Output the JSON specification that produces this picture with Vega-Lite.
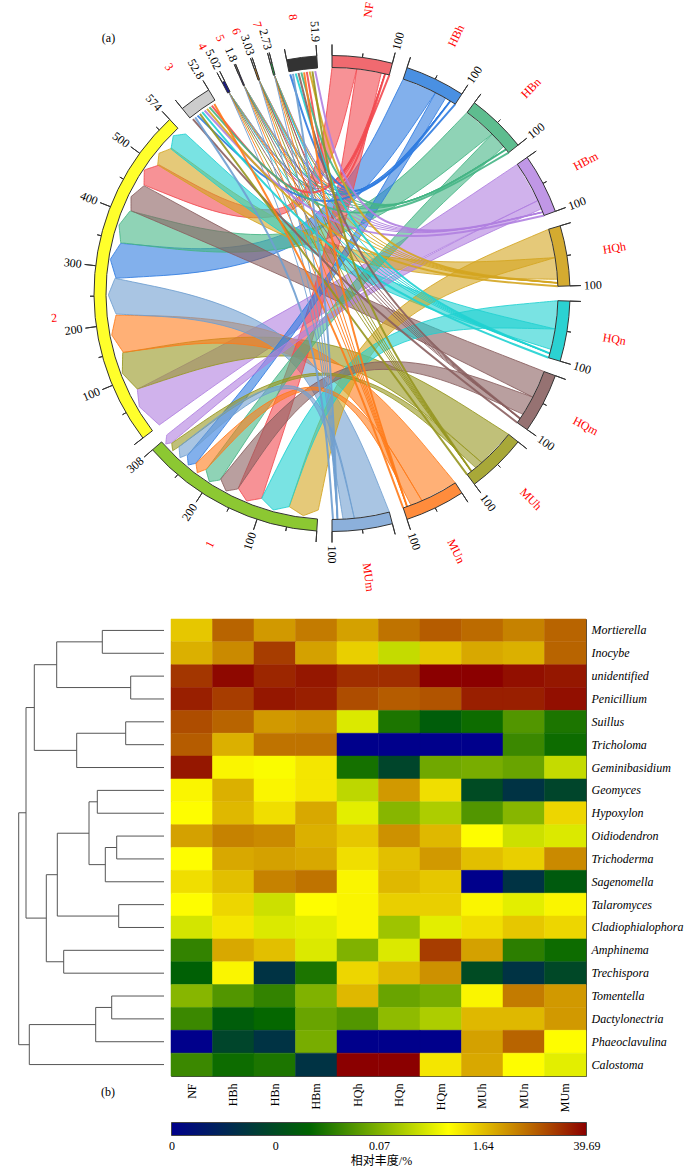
{"$schema":"https://vega.github.io/schema/vega-lite/v6.json","padding":0,"background":"white","bounds":"flush","spacing":32,"config":{"view":{"stroke":null},"text":{"font":"Liberation Serif"},"axis":{"labelFont":"Liberation Serif","titleFont":"Liberation Serif"}},
"datasets":{
"ribbons":[
{"i":"a2","x":332,"y":67.5},{"i":"a2","x":332,"y":67.5},{"i":"a2","x":332,"y":67.5},{"i":"a2","x":310.4,"y":249.2},{"i":"a2","x":159.3,"y":165},{"i":"a2","x":159.3,"y":165},{"i":"a2","x":159.3,"y":165},{"i":"a2","x":144.3,"y":170},{"i":"a2","x":144.3,"y":170},{"i":"a2","x":144.3,"y":170},{"i":"a2","x":144,"y":185},{"i":"a2","x":144,"y":185},{"i":"a2","x":144,"y":185},{"i":"a2","x":311.6,"y":251.8},{"i":"a2","x":356.8,"y":68.9},{"i":"a2","x":356.8,"y":68.9},{"i":"a2","x":356.8,"y":68.9},
{"i":"b2","x":403.2,"y":79},{"i":"b2","x":403.2,"y":79},{"i":"b2","x":403.2,"y":79},{"i":"b2","x":314.5,"y":260.5},{"i":"b2","x":120.7,"y":243.3},{"i":"b2","x":120.7,"y":243.3},{"i":"b2","x":120.7,"y":243.3},{"i":"b2","x":110.3,"y":259.3},{"i":"b2","x":110.3,"y":259.3},{"i":"b2","x":110.3,"y":259.3},{"i":"b2","x":116,"y":278.3},{"i":"b2","x":116,"y":278.3},{"i":"b2","x":116,"y":278.3},{"i":"b2","x":317.9,"y":266.5},{"i":"b2","x":435.6,"y":92.6},{"i":"b2","x":435.6,"y":92.6},{"i":"b2","x":435.6,"y":92.6},
{"i":"c2","x":467.1,"y":112.4},{"i":"c2","x":467.1,"y":112.4},{"i":"c2","x":467.1,"y":112.4},{"i":"c2","x":323.6,"y":260.6},{"i":"c2","x":130,"y":211},{"i":"c2","x":130,"y":211},{"i":"c2","x":130,"y":211},{"i":"c2","x":119,"y":225},{"i":"c2","x":119,"y":225},{"i":"c2","x":119,"y":225},{"i":"c2","x":120.7,"y":242.7},{"i":"c2","x":120.7,"y":242.7},{"i":"c2","x":120.7,"y":242.7},{"i":"c2","x":325.6,"y":267.2},{"i":"c2","x":492.2,"y":134},{"i":"c2","x":492.2,"y":134},{"i":"c2","x":492.2,"y":134},
{"i":"d2","x":517.4,"y":164.2},{"i":"d2","x":517.4,"y":164.2},{"i":"d2","x":517.4,"y":164.2},{"i":"d2","x":330.8,"y":289.3},{"i":"d2","x":137.3,"y":389.3},{"i":"d2","x":137.3,"y":389.3},{"i":"d2","x":137.3,"y":389.3},{"i":"d2","x":139.3,"y":406.7},{"i":"d2","x":139.3,"y":406.7},{"i":"d2","x":139.3,"y":406.7},{"i":"d2","x":159.3,"y":425},{"i":"d2","x":159.3,"y":425},{"i":"d2","x":159.3,"y":425},{"i":"d2","x":336.2,"y":298.3},{"i":"d2","x":538,"y":200.5},{"i":"d2","x":538,"y":200.5},{"i":"d2","x":538,"y":200.5},
{"i":"e2","x":555.1,"y":257.6},{"i":"e2","x":555.1,"y":257.6},{"i":"e2","x":555.1,"y":257.6},{"i":"e2","x":339.8,"y":270.9},{"i":"e2","x":171.7,"y":148.3},{"i":"e2","x":171.7,"y":148.3},{"i":"e2","x":171.7,"y":148.3},{"i":"e2","x":159,"y":153.3},{"i":"e2","x":159,"y":153.3},{"i":"e2","x":159,"y":153.3},{"i":"e2","x":157.7,"y":165},{"i":"e2","x":157.7,"y":165},{"i":"e2","x":157.7,"y":165},{"i":"e2","x":338.4,"y":275.7},{"i":"e2","x":557.5,"y":279.3},{"i":"e2","x":557.5,"y":279.3},{"i":"e2","x":557.5,"y":279.3},
{"i":"f2","x":555.2,"y":329},{"i":"f2","x":555.2,"y":329},{"i":"f2","x":555.2,"y":329},{"i":"f2","x":341.6,"y":278},{"i":"f2","x":185.7,"y":134},{"i":"f2","x":185.7,"y":134},{"i":"f2","x":185.7,"y":134},{"i":"f2","x":173.3,"y":135.7},{"i":"f2","x":173.3,"y":135.7},{"i":"f2","x":173.3,"y":135.7},{"i":"f2","x":171,"y":149},{"i":"f2","x":171,"y":149},{"i":"f2","x":171,"y":149},{"i":"f2","x":339.2,"y":282.4},{"i":"f2","x":551,"y":349.4},{"i":"f2","x":551,"y":349.4},{"i":"f2","x":551,"y":349.4},
{"i":"g2","x":544.1,"y":371.5},{"i":"g2","x":544.1,"y":371.5},{"i":"g2","x":544.1,"y":371.5},{"i":"g2","x":335,"y":289.7},{"i":"g2","x":144,"y":185.7},{"i":"g2","x":144,"y":185.7},{"i":"g2","x":144,"y":185.7},{"i":"g2","x":131,"y":196.7},{"i":"g2","x":131,"y":196.7},{"i":"g2","x":131,"y":196.7},{"i":"g2","x":131,"y":210.7},{"i":"g2","x":131,"y":210.7},{"i":"g2","x":131,"y":210.7},{"i":"g2","x":332,"y":296.1},{"i":"g2","x":532.8,"y":397.1},{"i":"g2","x":532.8,"y":397.1},{"i":"g2","x":532.8,"y":397.1},
{"i":"h2","x":508.7,"y":434.4},{"i":"h2","x":508.7,"y":434.4},{"i":"h2","x":508.7,"y":434.4},{"i":"h2","x":328,"y":318.6},{"i":"h2","x":122.7,"y":352.7},{"i":"h2","x":122.7,"y":352.7},{"i":"h2","x":122.7,"y":352.7},{"i":"h2","x":122.3,"y":373.3},{"i":"h2","x":122.3,"y":373.3},{"i":"h2","x":122.3,"y":373.3},{"i":"h2","x":137.3,"y":389},{"i":"h2","x":137.3,"y":389},{"i":"h2","x":137.3,"y":389},{"i":"h2","x":326.4,"y":326.6},{"i":"h2","x":481.9,"y":462.7},{"i":"h2","x":481.9,"y":462.7},{"i":"h2","x":481.9,"y":462.7},
{"i":"i2","x":455.3,"y":482.9},{"i":"i2","x":455.3,"y":482.9},{"i":"i2","x":455.3,"y":482.9},{"i":"i2","x":320.4,"y":319.8},{"i":"i2","x":116,"y":315},{"i":"i2","x":116,"y":315},{"i":"i2","x":116,"y":315},{"i":"i2","x":111.7,"y":335},{"i":"i2","x":111.7,"y":335},{"i":"i2","x":111.7,"y":335},{"i":"i2","x":123.3,"y":352.3},{"i":"i2","x":123.3,"y":352.3},{"i":"i2","x":123.3,"y":352.3},{"i":"i2","x":317.2,"y":326.8},{"i":"i2","x":422,"y":500.8},{"i":"i2","x":422,"y":500.8},{"i":"i2","x":422,"y":500.8},
{"i":"j2","x":389.4,"y":512.1},{"i":"j2","x":389.4,"y":512.1},{"i":"j2","x":389.4,"y":512.1},{"i":"j2","x":312.1,"y":318.9},{"i":"j2","x":115,"y":278.3},{"i":"j2","x":115,"y":278.3},{"i":"j2","x":115,"y":278.3},{"i":"j2","x":108.3,"y":295},{"i":"j2","x":108.3,"y":295},{"i":"j2","x":108.3,"y":295},{"i":"j2","x":116,"y":314},{"i":"j2","x":116,"y":314},{"i":"j2","x":116,"y":314},{"i":"j2","x":307.9,"y":324.1},{"i":"j2","x":354.4,"y":518.4},{"i":"j2","x":354.4,"y":518.4},{"i":"j2","x":354.4,"y":518.4},
{"i":"a1","x":356.8,"y":68.9},{"i":"a1","x":356.8,"y":68.9},{"i":"a1","x":356.8,"y":68.9},{"i":"a1","x":323.4,"y":289.7},{"i":"a1","x":238.3,"y":488.3},{"i":"a1","x":238.3,"y":488.3},{"i":"a1","x":238.3,"y":488.3},{"i":"a1","x":246.7,"y":501},{"i":"a1","x":246.7,"y":501},{"i":"a1","x":246.7,"y":501},{"i":"a1","x":261.7,"y":498.3},{"i":"a1","x":261.7,"y":498.3},{"i":"a1","x":261.7,"y":498.3},{"i":"a1","x":329.4,"y":291.5},{"i":"a1","x":381.3,"y":72.9},{"i":"a1","x":381.3,"y":72.9},{"i":"a1","x":381.3,"y":72.9},
{"i":"b1","x":435.6,"y":92.6},{"i":"b1","x":435.6,"y":92.6},{"i":"b1","x":435.6,"y":92.6},{"i":"b1","x":326.8,"y":288.7},{"i":"b1","x":187.3,"y":455.7},{"i":"b1","x":187.3,"y":455.7},{"i":"b1","x":187.3,"y":455.7},{"i":"b1","x":188.3,"y":465},{"i":"b1","x":188.3,"y":465},{"i":"b1","x":188.3,"y":465},{"i":"b1","x":196,"y":463.3},{"i":"b1","x":196,"y":463.3},{"i":"b1","x":196,"y":463.3},{"i":"b1","x":329.2,"y":290.3},{"i":"b1","x":445.6,"y":98.1},{"i":"b1","x":445.6,"y":98.1},{"i":"b1","x":445.6,"y":98.1},
{"i":"c1","x":492.2,"y":134},{"i":"c1","x":492.2,"y":134},{"i":"c1","x":492.2,"y":134},{"i":"c1","x":336.3,"y":295.6},{"i":"c1","x":206,"y":470},{"i":"c1","x":206,"y":470},{"i":"c1","x":206,"y":470},{"i":"c1","x":209.3,"y":481.7},{"i":"c1","x":209.3,"y":481.7},{"i":"c1","x":209.3,"y":481.7},{"i":"c1","x":220,"y":480},{"i":"c1","x":220,"y":480},{"i":"c1","x":220,"y":480},{"i":"c1","x":339.5,"y":298.4},{"i":"c1","x":503.7,"y":146.5},{"i":"c1","x":503.7,"y":146.5},{"i":"c1","x":503.7,"y":146.5},
{"i":"d1","x":538,"y":200.5},{"i":"d1","x":538,"y":200.5},{"i":"d1","x":538,"y":200.5},{"i":"d1","x":337.1,"y":299.6},{"i":"d1","x":166.7,"y":435},{"i":"d1","x":166.7,"y":435},{"i":"d1","x":166.7,"y":435},{"i":"d1","x":165.7,"y":444},{"i":"d1","x":165.7,"y":444},{"i":"d1","x":165.7,"y":444},{"i":"d1","x":171.7,"y":442.7},{"i":"d1","x":171.7,"y":442.7},{"i":"d1","x":171.7,"y":442.7},{"i":"d1","x":338.1,"y":301.6},{"i":"d1","x":541.5,"y":208.8},{"i":"d1","x":541.5,"y":208.8},{"i":"d1","x":541.5,"y":208.8},
{"i":"e1","x":548.7,"y":229.2},{"i":"e1","x":548.7,"y":229.2},{"i":"e1","x":548.7,"y":229.2},{"i":"e1","x":353.8,"y":312.1},{"i":"e1","x":289.3,"y":506.7},{"i":"e1","x":289.3,"y":506.7},{"i":"e1","x":289.3,"y":506.7},{"i":"e1","x":303.3,"y":515.7},{"i":"e1","x":303.3,"y":515.7},{"i":"e1","x":303.3,"y":515.7},{"i":"e1","x":318.3,"y":510},{"i":"e1","x":318.3,"y":510},{"i":"e1","x":318.3,"y":510},{"i":"e1","x":358.2,"y":316.1},{"i":"e1","x":555.1,"y":257.6},{"i":"e1","x":555.1,"y":257.6},{"i":"e1","x":555.1,"y":257.6},
{"i":"f1","x":557.9,"y":300.7},{"i":"f1","x":557.9,"y":300.7},{"i":"f1","x":557.9,"y":300.7},{"i":"f1","x":351.5,"y":320},{"i":"f1","x":261.7,"y":498.3},{"i":"f1","x":261.7,"y":498.3},{"i":"f1","x":261.7,"y":498.3},{"i":"f1","x":273.3,"y":510},{"i":"f1","x":273.3,"y":510},{"i":"f1","x":273.3,"y":510},{"i":"f1","x":289,"y":506.7},{"i":"f1","x":289,"y":506.7},{"i":"f1","x":289,"y":506.7},{"i":"f1","x":354.5,"y":324.6},{"i":"f1","x":555.2,"y":329},{"i":"f1","x":555.2,"y":329},{"i":"f1","x":555.2,"y":329},
{"i":"g1","x":532.8,"y":397.1},{"i":"g1","x":532.8,"y":397.1},{"i":"g1","x":532.8,"y":397.1},{"i":"g1","x":343.1,"y":329.6},{"i":"g1","x":220.7,"y":479},{"i":"g1","x":220.7,"y":479},{"i":"g1","x":220.7,"y":479},{"i":"g1","x":226,"y":491},{"i":"g1","x":226,"y":491},{"i":"g1","x":226,"y":491},{"i":"g1","x":237.7,"y":489},{"i":"g1","x":237.7,"y":489},{"i":"g1","x":237.7,"y":489},{"i":"g1","x":344.1,"y":333},{"i":"g1","x":523,"y":414.3},{"i":"g1","x":523,"y":414.3},{"i":"g1","x":523,"y":414.3},
{"i":"h1","x":481.9,"y":462.7},{"i":"h1","x":481.9,"y":462.7},{"i":"h1","x":481.9,"y":462.7},{"i":"h1","x":330.7,"y":333.4},{"i":"h1","x":171.7,"y":443.3},{"i":"h1","x":171.7,"y":443.3},{"i":"h1","x":171.7,"y":443.3},{"i":"h1","x":172.7,"y":450.7},{"i":"h1","x":172.7,"y":450.7},{"i":"h1","x":172.7,"y":450.7},{"i":"h1","x":179,"y":446.7},{"i":"h1","x":179,"y":446.7},{"i":"h1","x":179,"y":446.7},{"i":"h1","x":330.9,"y":334.4},{"i":"h1","x":475.8,"y":467.8},{"i":"h1","x":475.8,"y":467.8},{"i":"h1","x":475.8,"y":467.8},
{"i":"i1","x":422,"y":500.8},{"i":"i1","x":422,"y":500.8},{"i":"i1","x":422,"y":500.8},{"i":"i1","x":326.3,"y":340.6},{"i":"i1","x":196,"y":463.3},{"i":"i1","x":196,"y":463.3},{"i":"i1","x":196,"y":463.3},{"i":"i1","x":197.3,"y":472.7},{"i":"i1","x":197.3,"y":472.7},{"i":"i1","x":197.3,"y":472.7},{"i":"i1","x":206,"y":469.3},{"i":"i1","x":206,"y":469.3},{"i":"i1","x":206,"y":469.3},{"i":"i1","x":326.1,"y":342},{"i":"i1","x":411,"y":505.2},{"i":"i1","x":411,"y":505.2},{"i":"i1","x":411,"y":505.2},
{"i":"j1","x":354.4,"y":518.4},{"i":"j1","x":354.4,"y":518.4},{"i":"j1","x":354.4,"y":518.4},{"i":"j1","x":315.6,"y":340.8},{"i":"j1","x":179,"y":446.7},{"i":"j1","x":179,"y":446.7},{"i":"j1","x":179,"y":446.7},{"i":"j1","x":180,"y":457.7},{"i":"j1","x":180,"y":457.7},{"i":"j1","x":180,"y":457.7},{"i":"j1","x":186.7,"y":455},{"i":"j1","x":186.7,"y":455},{"i":"j1","x":186.7,"y":455},{"i":"j1","x":315.2,"y":342},{"i":"j1","x":343,"y":519.2},{"i":"j1","x":343,"y":519.2},{"i":"j1","x":343,"y":519.2}
],
"links":[
{"i":"a3","x":389.4,"y":74.9},{"i":"a3","x":322.6,"y":243.1},{"i":"a3","x":211.8,"y":105.6},
{"i":"b3","x":455.3,"y":104.1},{"i":"b3","x":330.8,"y":246.4},{"i":"b3","x":197.5,"y":115.6},
{"i":"c3","x":508.7,"y":152.6},{"i":"c3","x":337.8,"y":252.5},{"i":"c3","x":209.4,"y":107.2},
{"i":"d3","x":544.1,"y":215.5},{"i":"d3","x":342.4,"y":260.3},{"i":"d3","x":204.6,"y":110.5},
{"i":"e3","x":557.9,"y":286.3},{"i":"e3","x":344.2,"y":269.2},{"i":"e3","x":207,"y":108.8},
{"i":"f3","x":548.7,"y":357.8},{"i":"f3","x":343.2,"y":278},{"i":"f3","x":202.2,"y":112.2},
{"i":"g3","x":517.4,"y":422.8},{"i":"g3","x":339.5,"y":286.1},{"i":"g3","x":192.9,"y":119.2},
{"i":"h3","x":467.1,"y":474.6},{"i":"h3","x":333.4,"y":292.7},{"i":"h3","x":199.9,"y":113.9},
{"i":"i3","x":403.2,"y":508},{"i":"i3","x":325.4,"y":297.2},{"i":"i3","x":214.3,"y":104.1},
{"i":"j3","x":333,"y":519.5},{"i":"j3","x":316.7,"y":298.7},{"i":"j3","x":195.2,"y":117.4},
{"i":"a8","x":385.1,"y":73.8},{"i":"a8","x":334.6,"y":238.4},{"i":"a8","x":306.8,"y":71.9},
{"i":"b8","x":450.4,"y":101},{"i":"b8","x":342.8,"y":241.7},{"i":"b8","x":290.2,"y":74.4},
{"i":"c8","x":506.1,"y":149.4},{"i":"c8","x":349.8,"y":247.8},{"i":"c8","x":301.3,"y":72.6},
{"i":"d8","x":542.9,"y":212.1},{"i":"d8","x":354.4,"y":255.6},{"i":"d8","x":315.2,"y":71.1},
{"i":"e8","x":557.8,"y":282.9},{"i":"e8","x":356.2,"y":264.5},{"i":"e8","x":309.6,"y":71.6},
{"i":"f8","x":549.9,"y":353.5},{"i":"f8","x":355.2,"y":273.3},{"i":"f8","x":295.7,"y":73.5},
{"i":"g8","x":520.2,"y":418.6},{"i":"g8","x":351.5,"y":281.4},{"i":"g8","x":298.5,"y":73},
{"i":"h8","x":471.4,"y":471.3},{"i":"h8","x":345.4,"y":288},{"i":"h8","x":312.4,"y":71.4},
{"i":"i8","x":407.1,"y":506.7},{"i":"i8","x":337.4,"y":292.5},{"i":"i8","x":304.1,"y":72.3},
{"i":"j8","x":337.5,"y":519.4},{"i":"j8","x":328.7,"y":294},{"i":"j8","x":293,"y":73.9}
],
"fine":[
{"i":"a4","x":385.1,"y":73.8},{"i":"a4","x":325.7,"y":241},{"i":"a4","x":228.9,"y":92.4},
{"i":"b4","x":450.4,"y":101},{"i":"b4","x":333.9,"y":244.3},{"i":"b4","x":228.9,"y":92.4},
{"i":"c4","x":506.1,"y":149.4},{"i":"c4","x":340.9,"y":250.4},{"i":"c4","x":228.9,"y":92.4},
{"i":"d4","x":542.9,"y":212.1},{"i":"d4","x":345.5,"y":258.2},{"i":"d4","x":228.9,"y":92.4},
{"i":"e4","x":557.8,"y":282.9},{"i":"e4","x":347.3,"y":267.1},{"i":"e4","x":228.9,"y":92.4},
{"i":"f4","x":549.9,"y":353.5},{"i":"f4","x":346.3,"y":275.9},{"i":"f4","x":228.9,"y":92.4},
{"i":"g4","x":520.2,"y":418.6},{"i":"g4","x":342.6,"y":284},{"i":"g4","x":228.9,"y":92.4},
{"i":"h4","x":471.4,"y":471.3},{"i":"h4","x":336.5,"y":290.6},{"i":"h4","x":228.9,"y":92.4},
{"i":"i4","x":407.1,"y":506.7},{"i":"i4","x":328.5,"y":295.1},{"i":"i4","x":228.9,"y":92.4},
{"i":"j4","x":337.5,"y":519.4},{"i":"j4","x":319.8,"y":296.6},{"i":"j4","x":228.9,"y":92.4},
{"i":"a5","x":385.1,"y":73.8},{"i":"a5","x":327.6,"y":240.1},{"i":"a5","x":243.9,"y":85.4},
{"i":"b5","x":450.4,"y":101},{"i":"b5","x":335.8,"y":243.4},{"i":"b5","x":243.9,"y":85.4},
{"i":"c5","x":506.1,"y":149.4},{"i":"c5","x":342.8,"y":249.5},{"i":"c5","x":243.9,"y":85.4},
{"i":"d5","x":542.9,"y":212.1},{"i":"d5","x":347.4,"y":257.3},{"i":"d5","x":243.9,"y":85.4},
{"i":"e5","x":557.8,"y":282.9},{"i":"e5","x":349.2,"y":266.2},{"i":"e5","x":243.9,"y":85.4},
{"i":"f5","x":549.9,"y":353.5},{"i":"f5","x":348.2,"y":275},{"i":"f5","x":243.9,"y":85.4},
{"i":"g5","x":520.2,"y":418.6},{"i":"g5","x":344.5,"y":283.1},{"i":"g5","x":243.9,"y":85.4},
{"i":"h5","x":471.4,"y":471.3},{"i":"h5","x":338.4,"y":289.7},{"i":"h5","x":243.9,"y":85.4},
{"i":"i5","x":407.1,"y":506.7},{"i":"i5","x":330.4,"y":294.2},{"i":"i5","x":243.9,"y":85.4},
{"i":"j5","x":337.5,"y":519.4},{"i":"j5","x":321.7,"y":295.7},{"i":"j5","x":243.9,"y":85.4},
{"i":"a6","x":385.1,"y":73.8},{"i":"a6","x":329.5,"y":239.4},{"i":"a6","x":258.8,"y":79.7},
{"i":"b6","x":450.4,"y":101},{"i":"b6","x":337.7,"y":242.7},{"i":"b6","x":258.8,"y":79.7},
{"i":"c6","x":506.1,"y":149.4},{"i":"c6","x":344.7,"y":248.8},{"i":"c6","x":258.8,"y":79.7},
{"i":"d6","x":542.9,"y":212.1},{"i":"d6","x":349.3,"y":256.6},{"i":"d6","x":258.8,"y":79.7},
{"i":"e6","x":557.8,"y":282.9},{"i":"e6","x":351.1,"y":265.5},{"i":"e6","x":258.8,"y":79.7},
{"i":"f6","x":549.9,"y":353.5},{"i":"f6","x":350.1,"y":274.3},{"i":"f6","x":258.8,"y":79.7},
{"i":"g6","x":520.2,"y":418.6},{"i":"g6","x":346.4,"y":282.4},{"i":"g6","x":258.8,"y":79.7},
{"i":"h6","x":471.4,"y":471.3},{"i":"h6","x":340.3,"y":289},{"i":"h6","x":258.8,"y":79.7},
{"i":"i6","x":407.1,"y":506.7},{"i":"i6","x":332.3,"y":293.5},{"i":"i6","x":258.8,"y":79.7},
{"i":"j6","x":337.5,"y":519.4},{"i":"j6","x":323.6,"y":295},{"i":"j6","x":258.8,"y":79.7},
{"i":"a7","x":385.1,"y":73.8},{"i":"a7","x":331.4,"y":238.8},{"i":"a7","x":274.3,"y":75},
{"i":"b7","x":450.4,"y":101},{"i":"b7","x":339.6,"y":242.1},{"i":"b7","x":274.3,"y":75},
{"i":"c7","x":506.1,"y":149.4},{"i":"c7","x":346.6,"y":248.2},{"i":"c7","x":274.3,"y":75},
{"i":"d7","x":542.9,"y":212.1},{"i":"d7","x":351.2,"y":256},{"i":"d7","x":274.3,"y":75},
{"i":"e7","x":557.8,"y":282.9},{"i":"e7","x":353,"y":264.9},{"i":"e7","x":274.3,"y":75},
{"i":"f7","x":549.9,"y":353.5},{"i":"f7","x":352,"y":273.7},{"i":"f7","x":274.3,"y":75},
{"i":"g7","x":520.2,"y":418.6},{"i":"g7","x":348.3,"y":281.8},{"i":"g7","x":274.3,"y":75},
{"i":"h7","x":471.4,"y":471.3},{"i":"h7","x":342.2,"y":288.4},{"i":"h7","x":274.3,"y":75},
{"i":"i7","x":407.1,"y":506.7},{"i":"i7","x":334.2,"y":292.9},{"i":"i7","x":274.3,"y":75},
{"i":"j7","x":337.5,"y":519.4},{"i":"j7","x":325.5,"y":294.4},{"i":"j7","x":274.3,"y":75}
],
"sectors":[{"n":"NF","a0":0,"a1":14.7},{"n":"HBh","a0":18.37,"a1":33.07},{"n":"HBn","a0":36.73,"a1":51.43},{"n":"HBm","a0":55.1,"a1":69.8},{"n":"HQh","a0":73.47,"a1":88.17},{"n":"HQn","a0":91.83,"a1":106.53},{"n":"HQm","a0":110.2,"a1":124.9},{"n":"MUh","a0":128.57,"a1":143.27},{"n":"MUn","a0":146.93,"a1":161.63},{"n":"MUm","a0":165.3,"a1":180},{"n":"1","a0":183.67,"a1":228.95},{"n":"2","a0":232.6,"a1":317},{"n":"3","a0":321,"a1":328.8},{"n":"4","a0":332.5,"a1":333.2},{"n":"5","a0":336.9,"a1":337.2},{"n":"6","a0":340.9,"a1":341.3},{"n":"7","a0":345,"a1":345.4},{"n":"8","a0":349,"a1":356.33}],
"major":[{"a":0},{"a":14.7},{"a":18.37},{"a":33.07},{"a":36.73},{"a":51.43},{"a":55.1},{"a":69.8},{"a":73.47},{"a":88.17},{"a":91.83},{"a":106.53},{"a":110.2},{"a":124.9},{"a":128.57},{"a":143.27},{"a":146.93},{"a":161.63},{"a":165.3},{"a":180},{"a":183.67},{"a":198.37},{"a":213.07},{"a":228.95},{"a":232.6},{"a":247.3},{"a":262},{"a":276.7},{"a":291.4},{"a":306.1},{"a":317},{"a":321},{"a":328.8},{"a":332.5},{"a":333.2},{"a":336.9},{"a":337.2},{"a":340.9},{"a":341.3},{"a":345},{"a":345.4},{"a":349},{"a":356.33}],
"minor":[{"a":7.35},{"a":25.72},{"a":44.08},{"a":62.45},{"a":80.82},{"a":99.18},{"a":117.55},{"a":135.92},{"a":154.28},{"a":172.65},{"a":191.02},{"a":205.72},{"a":220.42},{"a":239.95},{"a":254.65},{"a":269.35},{"a":284.05},{"a":298.75},{"a":313.45}],
"heat":[
{"g":"Mortierella","s":"NF","v":74},{"g":"Mortierella","s":"HBh","v":87},{"g":"Mortierella","s":"HBn","v":80},{"g":"Mortierella","s":"HBm","v":84},{"g":"Mortierella","s":"HQh","v":79},{"g":"Mortierella","s":"HQn","v":85},{"g":"Mortierella","s":"HQm","v":88},{"g":"Mortierella","s":"MUh","v":86},{"g":"Mortierella","s":"MUn","v":83},{"g":"Mortierella","s":"MUm","v":87},
{"g":"Inocybe","s":"NF","v":77},{"g":"Inocybe","s":"HBh","v":82},{"g":"Inocybe","s":"HBn","v":92},{"g":"Inocybe","s":"HBm","v":79},{"g":"Inocybe","s":"HQh","v":73},{"g":"Inocybe","s":"HQn","v":59},{"g":"Inocybe","s":"HQm","v":74},{"g":"Inocybe","s":"MUh","v":78},{"g":"Inocybe","s":"MUn","v":77},{"g":"Inocybe","s":"MUm","v":87},
{"g":"unidentified","s":"NF","v":93},{"g":"unidentified","s":"HBh","v":99},{"g":"unidentified","s":"HBn","v":95},{"g":"unidentified","s":"HBm","v":97},{"g":"unidentified","s":"HQh","v":94},{"g":"unidentified","s":"HQn","v":94},{"g":"unidentified","s":"HQm","v":100},{"g":"unidentified","s":"MUh","v":100},{"g":"unidentified","s":"MUn","v":98},{"g":"unidentified","s":"MUm","v":97},
{"g":"Penicillium","s":"NF","v":96},{"g":"Penicillium","s":"HBh","v":92},{"g":"Penicillium","s":"HBn","v":97},{"g":"Penicillium","s":"HBm","v":96},{"g":"Penicillium","s":"HQh","v":90},{"g":"Penicillium","s":"HQn","v":88},{"g":"Penicillium","s":"HQm","v":89},{"g":"Penicillium","s":"MUh","v":96},{"g":"Penicillium","s":"MUn","v":96},{"g":"Penicillium","s":"MUm","v":98},
{"g":"Suillus","s":"NF","v":90},{"g":"Suillus","s":"HBh","v":87},{"g":"Suillus","s":"HBn","v":80},{"g":"Suillus","s":"HBm","v":81},{"g":"Suillus","s":"HQh","v":62},{"g":"Suillus","s":"HQn","v":37},{"g":"Suillus","s":"HQm","v":31},{"g":"Suillus","s":"MUh","v":35},{"g":"Suillus","s":"MUn","v":44},{"g":"Suillus","s":"MUm","v":37},
{"g":"Tricholoma","s":"NF","v":88},{"g":"Tricholoma","s":"HBh","v":77},{"g":"Tricholoma","s":"HBn","v":85},{"g":"Tricholoma","s":"HBm","v":85},{"g":"Tricholoma","s":"HQh","v":0},{"g":"Tricholoma","s":"HQn","v":0},{"g":"Tricholoma","s":"HQm","v":0},{"g":"Tricholoma","s":"MUh","v":0},{"g":"Tricholoma","s":"MUn","v":41},{"g":"Tricholoma","s":"MUm","v":35},
{"g":"Geminibasidium","s":"NF","v":97},{"g":"Geminibasidium","s":"HBh","v":68},{"g":"Geminibasidium","s":"HBn","v":66},{"g":"Geminibasidium","s":"HBm","v":70},{"g":"Geminibasidium","s":"HQh","v":36},{"g":"Geminibasidium","s":"HQn","v":23},{"g":"Geminibasidium","s":"HQm","v":48},{"g":"Geminibasidium","s":"MUh","v":49},{"g":"Geminibasidium","s":"MUn","v":47},{"g":"Geminibasidium","s":"MUm","v":59},
{"g":"Geomyces","s":"NF","v":68},{"g":"Geomyces","s":"HBh","v":77},{"g":"Geomyces","s":"HBn","v":68},{"g":"Geomyces","s":"HBm","v":70},{"g":"Geomyces","s":"HQh","v":58},{"g":"Geomyces","s":"HQn","v":80},{"g":"Geomyces","s":"HQm","v":71},{"g":"Geomyces","s":"MUh","v":25},{"g":"Geomyces","s":"MUn","v":17},{"g":"Geomyces","s":"MUm","v":23},
{"g":"Hypoxylon","s":"NF","v":67},{"g":"Hypoxylon","s":"HBh","v":76},{"g":"Hypoxylon","s":"HBn","v":71},{"g":"Hypoxylon","s":"HBm","v":78},{"g":"Hypoxylon","s":"HQh","v":63},{"g":"Hypoxylon","s":"HQn","v":51},{"g":"Hypoxylon","s":"HQm","v":56},{"g":"Hypoxylon","s":"MUh","v":44},{"g":"Hypoxylon","s":"MUn","v":51},{"g":"Hypoxylon","s":"MUm","v":72},
{"g":"Oidiodendron","s":"NF","v":79},{"g":"Oidiodendron","s":"HBh","v":83},{"g":"Oidiodendron","s":"HBn","v":82},{"g":"Oidiodendron","s":"HBm","v":77},{"g":"Oidiodendron","s":"HQh","v":74},{"g":"Oidiodendron","s":"HQn","v":81},{"g":"Oidiodendron","s":"HQm","v":76},{"g":"Oidiodendron","s":"MUh","v":67},{"g":"Oidiodendron","s":"MUn","v":60},{"g":"Oidiodendron","s":"MUm","v":62},
{"g":"Trichoderma","s":"NF","v":67},{"g":"Trichoderma","s":"HBh","v":78},{"g":"Trichoderma","s":"HBn","v":79},{"g":"Trichoderma","s":"HBm","v":78},{"g":"Trichoderma","s":"HQh","v":71},{"g":"Trichoderma","s":"HQn","v":75},{"g":"Trichoderma","s":"HQm","v":80},{"g":"Trichoderma","s":"MUh","v":75},{"g":"Trichoderma","s":"MUn","v":73},{"g":"Trichoderma","s":"MUm","v":82},
{"g":"Sagenomella","s":"NF","v":71},{"g":"Sagenomella","s":"HBh","v":75},{"g":"Sagenomella","s":"HBn","v":83},{"g":"Sagenomella","s":"HBm","v":85},{"g":"Sagenomella","s":"HQh","v":68},{"g":"Sagenomella","s":"HQn","v":76},{"g":"Sagenomella","s":"HQm","v":74},{"g":"Sagenomella","s":"MUh","v":0},{"g":"Sagenomella","s":"MUn","v":17},{"g":"Sagenomella","s":"MUm","v":30},
{"g":"Talaromyces","s":"NF","v":67},{"g":"Talaromyces","s":"HBh","v":72},{"g":"Talaromyces","s":"HBn","v":60},{"g":"Talaromyces","s":"HBm","v":67},{"g":"Talaromyces","s":"HQh","v":68},{"g":"Talaromyces","s":"HQn","v":73},{"g":"Talaromyces","s":"HQm","v":73},{"g":"Talaromyces","s":"MUh","v":68},{"g":"Talaromyces","s":"MUn","v":63},{"g":"Talaromyces","s":"MUm","v":68},
{"g":"Cladiophialophora","s":"NF","v":61},{"g":"Cladiophialophora","s":"HBh","v":70},{"g":"Cladiophialophora","s":"HBn","v":62},{"g":"Cladiophialophora","s":"HBm","v":63},{"g":"Cladiophialophora","s":"HQh","v":68},{"g":"Cladiophialophora","s":"HQn","v":54},{"g":"Cladiophialophora","s":"HQm","v":63},{"g":"Cladiophialophora","s":"MUh","v":71},{"g":"Cladiophialophora","s":"MUn","v":74},{"g":"Cladiophialophora","s":"MUm","v":72},
{"g":"Amphinema","s":"NF","v":40},{"g":"Amphinema","s":"HBh","v":78},{"g":"Amphinema","s":"HBn","v":75},{"g":"Amphinema","s":"HBm","v":62},{"g":"Amphinema","s":"HQh","v":50},{"g":"Amphinema","s":"HQn","v":62},{"g":"Amphinema","s":"HQm","v":92},{"g":"Amphinema","s":"MUh","v":79},{"g":"Amphinema","s":"MUn","v":39},{"g":"Amphinema","s":"MUm","v":35},
{"g":"Trechispora","s":"NF","v":32},{"g":"Trechispora","s":"HBh","v":68},{"g":"Trechispora","s":"HBn","v":17},{"g":"Trechispora","s":"HBm","v":37},{"g":"Trechispora","s":"HQh","v":72},{"g":"Trechispora","s":"HQn","v":76},{"g":"Trechispora","s":"HQm","v":81},{"g":"Trechispora","s":"MUh","v":25},{"g":"Trechispora","s":"MUn","v":17},{"g":"Trechispora","s":"MUm","v":24},
{"g":"Tomentella","s":"NF","v":51},{"g":"Tomentella","s":"HBh","v":44},{"g":"Tomentella","s":"HBn","v":40},{"g":"Tomentella","s":"HBm","v":50},{"g":"Tomentella","s":"HQh","v":76},{"g":"Tomentella","s":"HQn","v":47},{"g":"Tomentella","s":"HQm","v":49},{"g":"Tomentella","s":"MUh","v":68},{"g":"Tomentella","s":"MUn","v":84},{"g":"Tomentella","s":"MUm","v":80},
{"g":"Dactylonectria","s":"NF","v":41},{"g":"Dactylonectria","s":"HBh","v":31},{"g":"Dactylonectria","s":"HBn","v":34},{"g":"Dactylonectria","s":"HBm","v":47},{"g":"Dactylonectria","s":"HQh","v":44},{"g":"Dactylonectria","s":"HQn","v":52},{"g":"Dactylonectria","s":"HQm","v":56},{"g":"Dactylonectria","s":"MUh","v":76},{"g":"Dactylonectria","s":"MUn","v":76},{"g":"Dactylonectria","s":"MUm","v":80},
{"g":"Phaeoclavulina","s":"NF","v":0},{"g":"Phaeoclavulina","s":"HBh","v":23},{"g":"Phaeoclavulina","s":"HBn","v":17},{"g":"Phaeoclavulina","s":"HBm","v":49},{"g":"Phaeoclavulina","s":"HQh","v":0},{"g":"Phaeoclavulina","s":"HQn","v":0},{"g":"Phaeoclavulina","s":"HQm","v":0},{"g":"Phaeoclavulina","s":"MUh","v":79},{"g":"Phaeoclavulina","s":"MUn","v":87},{"g":"Phaeoclavulina","s":"MUm","v":67},
{"g":"Calostoma","s":"NF","v":41},{"g":"Calostoma","s":"HBh","v":35},{"g":"Calostoma","s":"HBn","v":37},{"g":"Calostoma","s":"HBm","v":17},{"g":"Calostoma","s":"HQh","v":100},{"g":"Calostoma","s":"HQn","v":100},{"g":"Calostoma","s":"HQm","v":70},{"g":"Calostoma","s":"MUh","v":78},{"g":"Calostoma","s":"MUn","v":67},{"g":"Calostoma","s":"MUm","v":63}
],
"tree":[
{"x":102.3,"x2":164,"y":0.5,"y2":0.5},{"x":102.3,"x2":164,"y":1.5,"y2":1.5},{"x":130.7,"x2":164,"y":2.5,"y2":2.5},{"x":130.7,"x2":164,"y":3.5,"y2":3.5},{"x":125.7,"x2":164,"y":4.5,"y2":4.5},{"x":125.7,"x2":164,"y":5.5,"y2":5.5},{"x":76.7,"x2":164,"y":6.5,"y2":6.5},{"x":97.3,"x2":164,"y":7.5,"y2":7.5},{"x":97.3,"x2":164,"y":8.5,"y2":8.5},{"x":116.7,"x2":164,"y":9.5,"y2":9.5},{"x":116.7,"x2":164,"y":10.5,"y2":10.5},{"x":105.3,"x2":164,"y":11.5,"y2":11.5},{"x":118.7,"x2":164,"y":12.5,"y2":12.5},{"x":118.7,"x2":164,"y":13.5,"y2":13.5},{"x":63.7,"x2":164,"y":14.5,"y2":14.5},{"x":63.7,"x2":164,"y":15.5,"y2":15.5},{"x":111.7,"x2":164,"y":16.5,"y2":16.5},{"x":111.7,"x2":164,"y":17.5,"y2":17.5},{"x":95.7,"x2":164,"y":18.5,"y2":18.5},{"x":29.3,"x2":164,"y":19.5,"y2":19.5},
{"x":102.3,"x2":102.3,"y":0.5,"y2":1.5},{"x":130.7,"x2":130.7,"y":2.5,"y2":3.5},{"x":125.7,"x2":125.7,"y":4.5,"y2":5.5},{"x":76.7,"x2":76.7,"y":5,"y2":6.5},{"x":56.7,"x2":56.7,"y":1,"y2":3},{"x":34.3,"x2":34.3,"y":2,"y2":5.75},{"x":97.3,"x2":97.3,"y":7.5,"y2":8.5},{"x":116.7,"x2":116.7,"y":9.5,"y2":10.5},{"x":105.3,"x2":105.3,"y":10,"y2":11.5},{"x":89,"x2":89,"y":8,"y2":10.75},{"x":118.7,"x2":118.7,"y":12.5,"y2":13.5},{"x":57.3,"x2":57.3,"y":9.375,"y2":13},{"x":63.7,"x2":63.7,"y":14.5,"y2":15.5},{"x":46.3,"x2":46.3,"y":11.19,"y2":15},{"x":26,"x2":26,"y":3.875,"y2":13.09},{"x":111.7,"x2":111.7,"y":16.5,"y2":17.5},{"x":95.7,"x2":95.7,"y":17,"y2":18.5},{"x":29.3,"x2":29.3,"y":17.75,"y2":19.5},{"x":18.7,"x2":18.7,"y":8.48,"y2":18.63},
{"x":56.7,"x2":102.3,"y":1,"y2":1},{"x":56.7,"x2":130.7,"y":3,"y2":3},{"x":76.7,"x2":125.7,"y":5,"y2":5},{"x":34.3,"x2":76.7,"y":5.75,"y2":5.75},{"x":34.3,"x2":56.7,"y":2,"y2":2},{"x":26,"x2":34.3,"y":3.875,"y2":3.875},{"x":89,"x2":97.3,"y":8,"y2":8},{"x":105.3,"x2":116.7,"y":10,"y2":10},{"x":89,"x2":105.3,"y":10.75,"y2":10.75},{"x":57.3,"x2":89,"y":9.375,"y2":9.375},{"x":57.3,"x2":118.7,"y":13,"y2":13},{"x":46.3,"x2":57.3,"y":11.19,"y2":11.19},{"x":46.3,"x2":63.7,"y":15,"y2":15},{"x":26,"x2":46.3,"y":13.09,"y2":13.09},{"x":18.7,"x2":26,"y":8.48,"y2":8.48},{"x":95.7,"x2":111.7,"y":17,"y2":17},{"x":29.3,"x2":95.7,"y":17.75,"y2":17.75},{"x":18.7,"x2":29.3,"y":18.63,"y2":18.63}
]
},
"vconcat":[
{"width":664,"height":587,"layer":[
{"data":{"name":"ribbons"},"transform":[{"window":[{"op":"row_number","as":"o"}]},{"calculate":"substring(datum.i,0,1)","as":"s"}],"mark":{"type":"line","interpolate":"basis","fillOpacity":0.6,"strokeWidth":1,"strokeOpacity":0.85},"encoding":{"x":{"field":"x","type":"quantitative","scale":{"domain":[0,664],"nice":false},"axis":null},"y":{"field":"y","type":"quantitative","scale":{"domain":[587,0],"nice":false},"axis":null},"order":{"field":"o","type":"quantitative"},"detail":{"field":"i"},"fill":{"field":"s","type":"nominal","legend":null,"scale":{"domain":["a","b","c","d","e","f","g","h","i","j"],"range":["#f24a50","#2f7be0","#45b585","#b07fe0","#d4a520","#1fd1d1","#8a5f5f","#969620","#ff7b1a","#6f9fd0"]}},"stroke":{"field":"s","type":"nominal","legend":null,"scale":{"domain":["a","b","c","d","e","f","g","h","i","j"],"range":["#f24a50","#2f7be0","#45b585","#b07fe0","#d4a520","#1fd1d1","#8a5f5f","#969620","#ff7b1a","#6f9fd0"]}}}},
{"data":{"name":"fine"},"transform":[{"window":[{"op":"row_number","as":"o"}]},{"calculate":"substring(datum.i,0,1)","as":"s"}],"mark":{"type":"line","interpolate":"basis","strokeWidth":1,"strokeOpacity":0.9},"encoding":{"x":{"field":"x","type":"quantitative","axis":null},"y":{"field":"y","type":"quantitative","axis":null},"order":{"field":"o","type":"quantitative"},"detail":{"field":"i"},"stroke":{"field":"s","type":"nominal","legend":null}}},
{"data":{"name":"links"},"transform":[{"window":[{"op":"row_number","as":"o"}]},{"calculate":"substring(datum.i,0,1)","as":"s"}],"mark":{"type":"line","interpolate":"basis","strokeWidth":2,"strokeOpacity":0.9},"encoding":{"x":{"field":"x","type":"quantitative","axis":null},"y":{"field":"y","type":"quantitative","axis":null},"order":{"field":"o","type":"quantitative"},"detail":{"field":"i"},"stroke":{"field":"s","type":"nominal","legend":null}}},
{"data":{"name":"sectors"},"mark":{"type":"arc","innerRadius":226,"outerRadius":238,"stroke":"#333333","strokeWidth":1},"encoding":{"theta":{"field":"a0","type":"quantitative","scale":{"domain":[0,360],"range":[0,6.283185]}},"theta2":{"field":"a1"},"fill":{"field":"n","type":"nominal","legend":null,"scale":{"domain":["NF","HBh","HBn","HBm","HQh","HQn","HQm","MUh","MUn","MUm","1","2","3","4","5","6","7","8"],"range":["#f06a70","#4a90e2","#5ebd8f","#c097e6","#d4ab30","#2bd2d2","#967272","#a8a838","#ff8c3c","#8cb0db","#8cc832","#ffff2b","#cccccc","#1a1a80","#332266","#b87820","#22aa44","#333333"]}}}},
{"data":{"name":"major"},"mark":{"type":"arc","innerRadius":238,"outerRadius":249,"stroke":"#333333","strokeWidth":1},"encoding":{"theta":{"field":"a","type":"quantitative","scale":{"domain":[0,360],"range":[0,6.283185]}},"theta2":{"field":"a"}}},
{"data":{"name":"minor"},"mark":{"type":"arc","innerRadius":238,"outerRadius":242,"stroke":"#333333","strokeWidth":1},"encoding":{"theta":{"field":"a","type":"quantitative","scale":{"domain":[0,360],"range":[0,6.283185]}},"theta2":{"field":"a"}}},
{"data":{"values":[{"a":14.7,"t":"100"},{"a":33.07,"t":"100"},{"a":51.43,"t":"100"},{"a":69.8,"t":"100"},{"a":88.17,"t":"100"},{"a":106.53,"t":"100"},{"a":124.9,"t":"100"},{"a":143.27,"t":"100"},{"a":161.63,"t":"100"},{"a":180,"t":"100"}]},"mark":{"type":"text","align":"left","baseline":"middle","fontSize":12,"radius":252,"font":"Liberation Serif"},"encoding":{"theta":{"field":"a","type":"quantitative","scale":{"domain":[0,360],"range":[0,6.283185]}},"text":{"field":"t"},"angle":{"field":"a","type":"quantitative","scale":{"domain":[0,180],"range":[-90,90]},"legend":null}}},
{"data":{"values":[{"a":198.37,"t":"100"},{"a":213.07,"t":"200"},{"a":228.95,"t":"308"},{"a":247.3,"t":"100"},{"a":262,"t":"200"},{"a":276.7,"t":"300"},{"a":291.4,"t":"400"},{"a":306.1,"t":"500"},{"a":317,"t":"574"},{"a":328.8,"t":"52.8"},{"a":333.2,"t":"5.02"},{"a":337.2,"t":"1.8"},{"a":341.3,"t":"3.03"},{"a":345.4,"t":"2.73"},{"a":356.33,"t":"51.9"}]},"mark":{"type":"text","align":"right","baseline":"middle","fontSize":12,"radius":252,"font":"Liberation Serif"},"encoding":{"theta":{"field":"a","type":"quantitative","scale":{"domain":[0,360],"range":[0,6.283185]}},"text":{"field":"t"},"angle":{"field":"a","type":"quantitative","scale":{"domain":[180,360],"range":[270,450]},"legend":null}}},
{"data":{"values":[{"a":7.35,"t":"NF"},{"a":25.72,"t":"HBh"},{"a":44.08,"t":"HBn"},{"a":62.45,"t":"HBm"},{"a":80.82,"t":"HQh"},{"a":99.18,"t":"HQn"},{"a":117.55,"t":"HQm"},{"a":135.92,"t":"MUh"},{"a":154.28,"t":"MUn"},{"a":172.65,"t":"MUm"}]},"mark":{"type":"text","align":"center","baseline":"middle","fontSize":12,"radius":286,"color":"#ff0000","font":"Liberation Serif"},"encoding":{"theta":{"field":"a","type":"quantitative","scale":{"domain":[0,360],"range":[0,6.283185]}},"text":{"field":"t"},"angle":{"field":"a","type":"quantitative","scale":{"domain":[0,180],"range":[-90,90]},"legend":null}}},
{"data":{"values":[{"a":206,"t":"1"},{"a":265,"t":"2"},{"a":324.3,"t":"3"},{"a":332.4,"t":"4"},{"a":336.4,"t":"5"},{"a":340,"t":"6"},{"a":344.5,"t":"7"},{"a":352,"t":"8"}]},"mark":{"type":"text","align":"center","baseline":"middle","fontSize":12,"radius":279,"color":"#ff0000","font":"Liberation Serif"},"encoding":{"theta":{"field":"a","type":"quantitative","scale":{"domain":[0,360],"range":[0,6.283185]}},"text":{"field":"t"},"angle":{"field":"a","type":"quantitative","scale":{"domain":[180,360],"range":[270,450]},"legend":null}}},
{"data":{"values":[{"x":108.5,"y":37.5,"t":"(a)"}]},"mark":{"type":"text","fontSize":12,"font":"Liberation Serif","align":"center","baseline":"middle"},"encoding":{"x":{"field":"x","type":"quantitative","axis":null},"y":{"field":"y","type":"quantitative","axis":null},"text":{"field":"t"}}}
],"resolve":{"scale":{"angle":"independent","fill":"independent"}}},
{"spacing":8.5,"vconcat":[
{"spacing":0,"hconcat":[
{"width":169.5,"height":457,"layer":[
{"data":{"name":"tree"},"mark":{"type":"rule","color":"#555555","strokeWidth":1},"encoding":{"x":{"field":"x","type":"quantitative","scale":{"domain":[0,169.5],"nice":false},"axis":null},"x2":{"field":"x2"},"y":{"field":"y","type":"quantitative","scale":{"domain":[20,0],"nice":false},"axis":null},"y2":{"field":"y2"}}},
{"data":{"values":[{"x":108,"y":20.7,"t":"(b)"}]},"mark":{"type":"text","fontSize":12,"font":"Liberation Serif","align":"center","baseline":"middle"},"encoding":{"x":{"field":"x","type":"quantitative","axis":null},"y":{"field":"y","type":"quantitative","axis":null},"text":{"field":"t"}}}
]},
{"width":415,"height":457,"view":{"stroke":"#444444","strokeWidth":1},"data":{"name":"heat"},"mark":{"type":"rect","strokeWidth":0.5},"encoding":{
"x":{"field":"s","type":"nominal","sort":["NF","HBh","HBn","HBm","HQh","HQn","HQm","MUh","MUn","MUm"],"scale":{"paddingInner":0,"paddingOuter":0},"axis":{"orient":"bottom","title":null,"ticks":false,"domain":false,"labelAngle":270,"labelFontSize":12,"labelPadding":7,"labelColor":"#000000"}},
"y":{"field":"g","type":"nominal","sort":["Mortierella","Inocybe","unidentified","Penicillium","Suillus","Tricholoma","Geminibasidium","Geomyces","Hypoxylon","Oidiodendron","Trichoderma","Sagenomella","Talaromyces","Cladiophialophora","Amphinema","Trechispora","Tomentella","Dactylonectria","Phaeoclavulina","Calostoma"],"scale":{"paddingInner":0,"paddingOuter":0},"axis":{"orient":"right","title":null,"ticks":false,"domain":false,"labelFontStyle":"italic","labelFontSize":12,"labelPadding":5,"labelColor":"#000000"}},
"fill":{"field":"v","type":"quantitative","legend":null,"scale":{"domain":[0,33.3,66.7,100],"range":["#00008b","#006400","#ffff00","#8b0000"],"interpolate":"rgb"}},
"stroke":{"field":"v","type":"quantitative","legend":null,"scale":{"domain":[0,33.3,66.7,100],"range":["#00008b","#006400","#ffff00","#8b0000"],"interpolate":"rgb"}}}}
]},
{"width":586.5,"height":13,"data":{"values":[{"lo":0,"hi":100}]},"mark":{"type":"rect","stroke":"#444444","strokeWidth":1,"fill":{"x1":0,"y1":0,"x2":1,"y2":0,"gradient":"linear","stops":[{"offset":0,"color":"#00008b"},{"offset":0.333,"color":"#006400"},{"offset":0.667,"color":"#ffff00"},{"offset":1,"color":"#8b0000"}]}},"encoding":{"x":{"field":"lo","type":"quantitative","scale":{"domain":[-41.33,100],"nice":false},"axis":{"orient":"bottom","values":[0,25,50,75,100],"labelExpr":"datum.value==0||datum.value==25?'0':datum.value==50?'0.07':datum.value==75?'1.64':'39.69'","ticks":false,"domain":false,"grid":false,"labelFontSize":12,"labelPadding":5,"labelColor":"#000000","labelFlush":false,"title":"相对丰度/%","titleFont":"Liberation Serif, Noto Sans CJK SC","titleFontSize":12,"titleFontWeight":"normal","titleX":381,"titlePadding":4,"titleColor":"#000000"}},"x2":{"field":"hi"}}}
]}
]}
